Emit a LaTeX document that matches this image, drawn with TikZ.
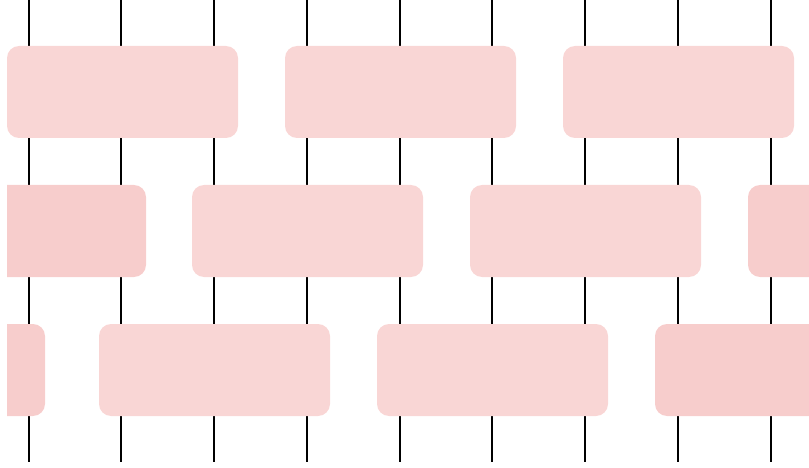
\documentclass[tikz,border=0pt]{standalone}
\begin{document}
\begin{tikzpicture}[x=1pt,y=-1pt,
  wire/.style={draw=black,line width=1.8pt},
  boxlight/.style={fill=boxL,draw=none,rounded corners=12pt,minimum width=231pt,minimum height=92pt,anchor=north west,inner sep=0pt,outer sep=0pt},
  boxdark/.style={boxlight,fill=boxD}]
\definecolor{boxL}{HTML}{F9D6D5}
\definecolor{boxD}{HTML}{F7CDCC}
\useasboundingbox (0,0) rectangle (809,468);
\foreach \x [count=\i] in {29,121,214,307,400,492,585,678,771}{
  \coordinate (t\i) at (\x,0);
  \coordinate (b\i) at (\x,462);
  \draw[wire] (t\i) -- (b\i);
}
\begin{scope}
\clip (7,0) rectangle (809,468);
\node[boxlight] (r1a) at (7,46) {};
\node[boxlight] (r1b) at (285,46) {};
\node[boxlight] (r1c) at (563,46) {};
\node[boxdark] (r2a) at (-85,185) {};
\node[boxlight] (r2b) at (192,185) {};
\node[boxlight] (r2c) at (470,185) {};
\node[boxdark] (r2d) at (748,185) {};
\node[boxdark] (r3a) at (-186,324) {};
\node[boxlight] (r3b) at (99,324) {};
\node[boxlight] (r3c) at (377,324) {};
\node[boxdark] (r3d) at (655,324) {};
\end{scope}
\end{tikzpicture}
\end{document}
